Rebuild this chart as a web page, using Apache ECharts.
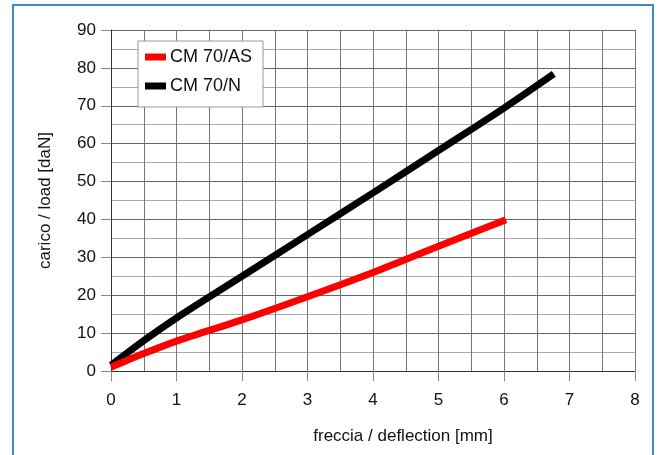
<!DOCTYPE html>
<html>
<head>
<meta charset="utf-8">
<script src="https://cdn.jsdelivr.net/npm/echarts@6/dist/echarts.min.js"></script>
<style>
  html, body { margin: 0; padding: 0; background: #fff; }
  #chart { position: absolute; left: 0; top: 0; width: 660px; height: 455px; }
  #frame { position: absolute; left: 12px; top: 4px; width: 638px; height: 480px;
           border: 2px solid #3f88c8; border-bottom: none; pointer-events: none; }
</style>
</head>
<body>
<div id="chart"></div>
<div id="frame"></div>
<script>
// Data
const seriesNames = ['CM 70/AS', 'CM 70/N'];
const asX = [0, 0.5, 1, 2, 3, 4, 5, 6.03];
const asY = [1, 4.6, 7.9, 13.5, 19.6, 26, 32.9, 39.9];
const nX = [0, 0.5, 1, 2, 3, 4, 5, 6, 6.76];
const nY = [1.5, 8, 14, 25, 36, 47, 58.2, 69.4, 78.4];
const xTitle = 'freccia / deflection [mm]';
const yTitle = 'carico / load [daN]';

const pairs = (xs, ys) => xs.map((x, i) => [x, ys[i]]);
const font = 'Liberation Sans, Arial, sans-serif';

const chart = echarts.init(document.getElementById('chart'));
chart.setOption({
  animation: false,
  backgroundColor: '#fff',
  grid: { left: 111, right: 25, top: 30, bottom: 84 },
  legend: {
    orient: 'vertical',
    left: 138, top: 41,
    padding: [7, 11, 12, 7],
    itemGap: 11,
    itemWidth: 21, itemHeight: 7,
    borderColor: '#999', borderWidth: 1,
    backgroundColor: '#fff',
    icon: 'rect',
    textStyle: { fontFamily: font, fontSize: 18, color: '#111', padding: [0, 0, 0, -1] },
    data: seriesNames
  },
  xAxis: {
    type: 'value', min: 0, max: 8, interval: 1,
    name: xTitle, nameLocation: 'middle', nameGap: 57,
    nameTextStyle: { fontFamily: font, fontSize: 17, color: '#111', padding: [0, 0, 0, 60] },
    axisLine: { show: true, lineStyle: { color: '#333', width: 1 } },
    axisTick: { show: true, length: 10, inside: false, lineStyle: { color: '#888' } },
    axisLabel: { fontFamily: font, fontSize: 17, color: '#111', margin: 21 },
    splitLine: { show: true, lineStyle: { color: '#777', width: 1 } },
    minorTick: { show: false, splitNumber: 2 },
    minorSplitLine: { show: true, lineStyle: { color: '#777', width: 1 } }
  },
  yAxis: {
    type: 'value', min: 0, max: 90, interval: 10,
    name: yTitle, nameLocation: 'middle', nameGap: 57,
    nameTextStyle: { fontFamily: font, fontSize: 17, color: '#111' },
    axisLine: { show: true, lineStyle: { color: '#333', width: 1 } },
    axisTick: { show: true, length: 10, inside: false, lineStyle: { color: '#888' } },
    axisLabel: { fontFamily: font, fontSize: 17, color: '#111', margin: 15 },
    splitLine: { show: true, lineStyle: { color: '#666', width: 1 } },
    minorTick: { show: false, splitNumber: 2 },
    minorSplitLine: { show: true, lineStyle: { color: '#aaa', width: 1 } }
  },
  series: [
    {
      name: seriesNames[0], type: 'line', data: pairs(asX, asY),
      showSymbol: false, symbol: 'none', smooth: 0.3,
      color: '#ff0000',
      lineStyle: { color: '#ff0000', width: 7, cap: 'butt', join: 'round' },
      z: 3
    },
    {
      name: seriesNames[1], type: 'line', data: pairs(nX, nY),
      showSymbol: false, symbol: 'none', smooth: 0.3,
      color: '#000000',
      lineStyle: { color: '#000000', width: 7, cap: 'butt', join: 'round' },
      z: 2
    }
  ]
});
</script>
</body>
</html>
